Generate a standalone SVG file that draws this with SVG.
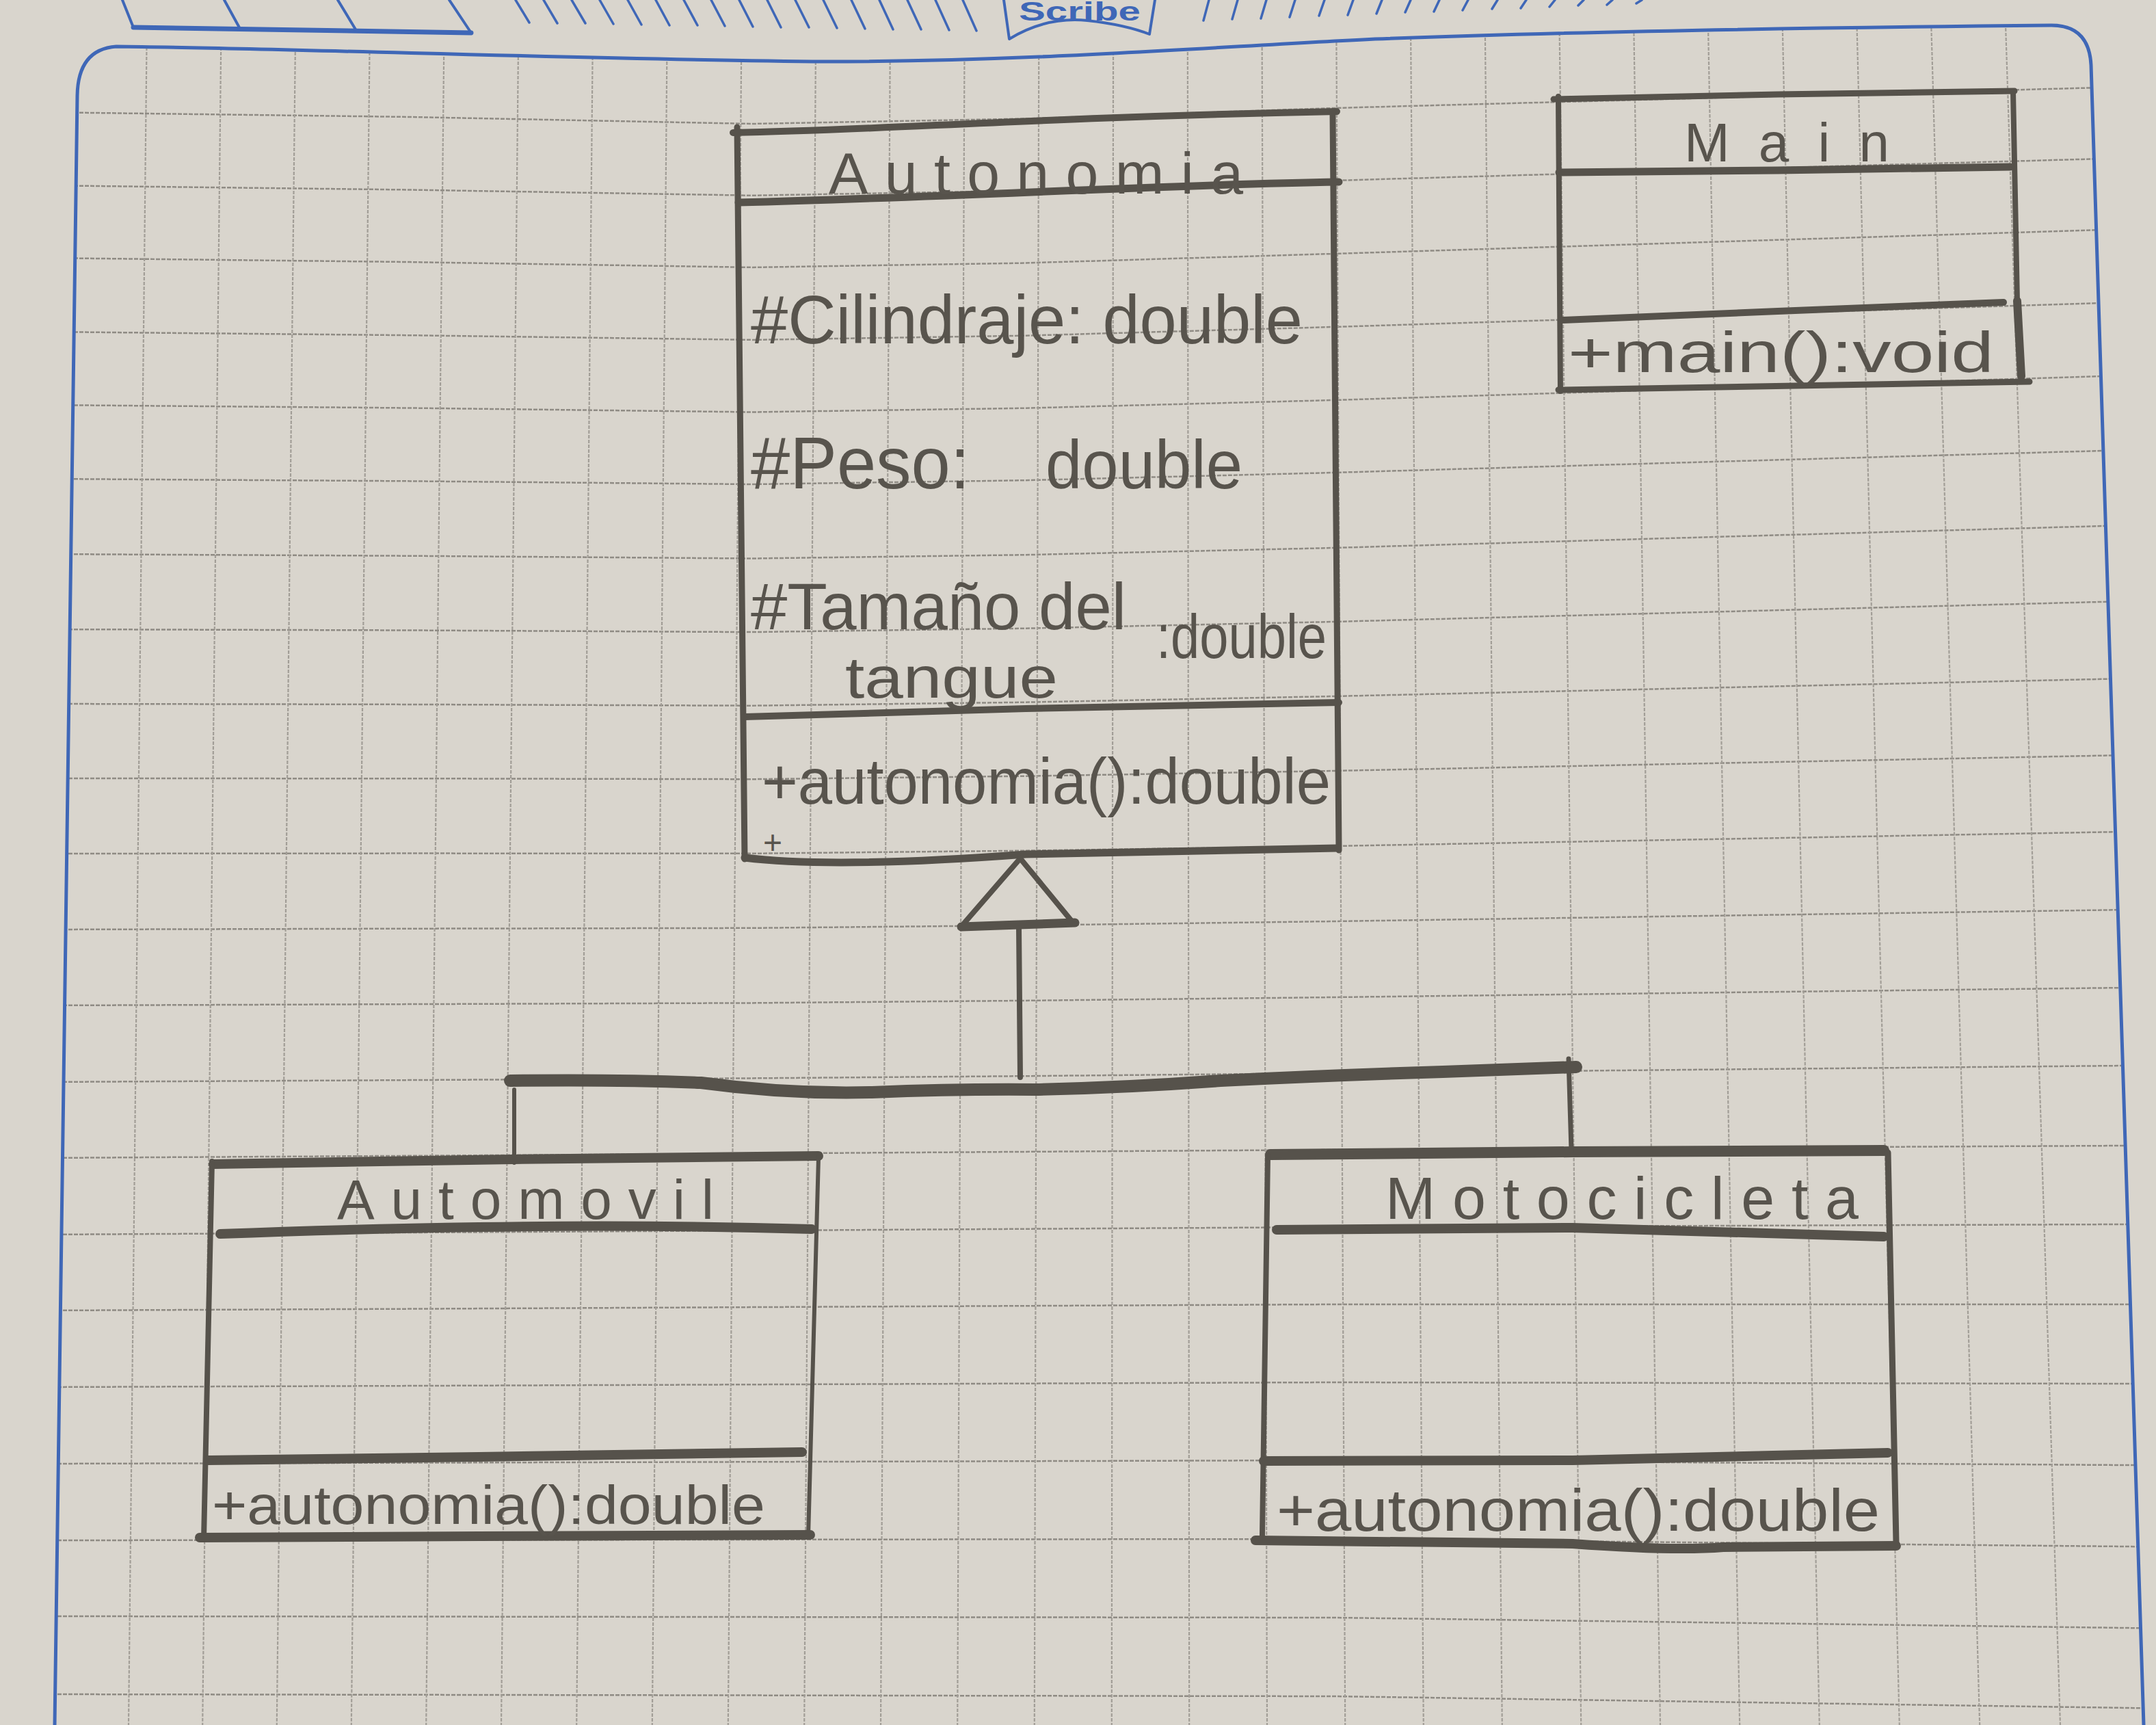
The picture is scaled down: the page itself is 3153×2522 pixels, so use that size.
<svg xmlns="http://www.w3.org/2000/svg" width="3153" height="2522" viewBox="0 0 3153 2522">
  <style>
    .paper { fill: #d9d5cd; }
    .gh { fill: none; stroke: #8f8b84; stroke-width: 2.5; stroke-dasharray: 6 2; }
    .gv { fill: none; stroke: #a29e97; stroke-width: 2.2; stroke-dasharray: 5 2; }
    .blue { fill: none; stroke: #3f67b7; stroke-linecap: round; stroke-linejoin: round; }
    .pencil { fill: none; stroke: #56524b; stroke-linecap: round; stroke-linejoin: round; }
    .hand { font-family: "Liberation Sans", "DejaVu Sans", sans-serif; fill: #58544d; }
  </style>
  <defs>
    <clipPath id="frameClip">
      <path d="M80,2522 L113,140 Q114,72 170,68 C400,70 900,88 1207,90 C1500,90 1750,70 2011,57 C2300,46 2700,40 3000,37 Q3055,37 3058,95 L3135,2522 Z"/>
    </clipPath>
  </defs>

  <!-- paper -->
  <rect class="paper" x="0" y="0" width="3153" height="2522"/>

  <!-- notebook header print -->
  <g id="header" class="blue">
    <path stroke-width="4" d="M179,0 L195,40 M328,0 L351,42 M494,0 L520,43 M657,0 L689,48"/>
    <path stroke-width="7" d="M195,40 L689,48"/>
    <path stroke-width="3.5" d="M754,0 L774,33 M795,0 L815,34 M836,0 L856,34 M877,0 L897,35 M918,0 L938,36 M959,0 L979,37 M1000,0 L1020,37 M1040,0 L1060,38 M1081,0 L1101,39 M1122,0 L1142,40 M1163,0 L1183,40 M1204,0 L1224,41 M1245,0 L1265,42 M1286,0 L1306,43 M1327,0 L1347,43 M1368,0 L1388,44 M1408,0 L1428,45"/>
    <path stroke-width="3.5" d="M1760,30 L1768,0 M1802,28 L1810,0 M1844,27 L1852,0 M1886,25 L1894,0 M1929,23 L1937,0 M1971,22 L1979,0 M2013,20 L2021,0 M2055,18 L2063,0 M2097,17 L2105,0 M2139,15 L2147,0 M2182,13 L2190,0 M2224,12 L2232,0 M2266,10 L2274,0 M2308,8 L2316,0 M2350,7 L2358,0 M2393,5 L2401,0"/>
    <path stroke-width="4" d="M1468,0 L1476,57 Q1530,24 1590,30 Q1645,36 1681,50 L1689,0"/>
    <text x="1490" y="30" textLength="178" lengthAdjust="spacingAndGlyphs" style="font-family:'Liberation Sans',sans-serif;font-weight:bold;font-size:38px;fill:#3f67b7;stroke:none">Scribe</text>
  </g>

  <!-- squared ruling, kept inside the printed frame -->
  <g id="grid" clip-path="url(#frameClip)">
    <g class="gh">
      <polyline points="60,164 600,171 1100,181 1500,173.5 1950,158 2500,143.2 3160,125.7"/>
      <polyline points="60,271 600,277.5 1100,285.8 1500,278.7 1950,264 2500,248.2 3160,229.6"/>
      <polyline points="60,377 600,383.1 1100,390.9 1500,384.5 1950,371 2500,353.8 3160,333.4"/>
      <polyline points="60,485 600,490.2 1100,496.9 1500,490.7 1950,478 2500,460.8 3160,440.4"/>
      <polyline points="60,592 600,596.5 1100,602.5 1500,596.7 1950,585 2500,567.8 3160,547.4"/>
      <polyline points="60,700 600,703.4 1100,708 1500,702.2 1950,691 2500,675.2 3160,656.6"/>
      <polyline points="60,810 600,812.7 1100,816.5 1500,811.2 1950,801 2500,785.2 3160,766.6"/>
      <polyline points="60,920 600,921.5 1100,924.1 1500,918.7 1950,909 2500,894.7 3160,877.7"/>
      <polyline points="60,1029 600,1029.9 1100,1031.7 1500,1026.7 1950,1018 2500,1005.6 3160,990.9"/>
      <polyline points="60,1138 600,1138.2 1100,1139.2 1500,1134.7 1950,1127 2500,1116 3160,1103"/>
      <polyline points="60,1248 600,1247.6 1100,1247.8 1500,1243.7 1950,1237 2500,1227 3160,1215"/>
      <polyline points="60,1359 600,1357.7 1100,1356.8 1500,1352.9 1950,1347 2500,1338.9 3160,1329.3"/>
      <polyline points="60,1470 600,1468.1 1100,1466.4 1500,1462.9 1950,1458 2500,1451.3 3160,1443.4"/>
      <polyline points="60,1582 600,1579.1 1100,1576.4 1500,1573.2 1950,1569 2500,1563.7 3160,1557.5"/>
      <polyline points="60,1693 600,1689.8 1100,1686.5 1500,1683.9 1950,1681 2500,1678.1 3160,1674.7"/>
      <polyline points="60,1805 600,1802 1100,1799.1 1500,1796.7 1950,1794 2500,1792.1 3160,1789.8"/>
      <polyline points="60,1916 600,1913.6 1100,1911.1 1500,1909.2 1950,1907 2500,1907 3160,1907"/>
      <polyline points="60,2028 600,2026.1 1100,2024.2 1500,2022.7 1950,2021 2500,2022 3160,2023.1"/>
      <polyline points="60,2140 600,2138.6 1100,2137.3 1500,2136.2 1950,2135 2500,2138.3 3160,2142.3"/>
      <polyline points="60,2252 600,2251.5 1100,2250.9 1500,2250.5 1950,2250 2500,2255.3 3160,2261.5"/>
      <polyline points="60,2363 600,2363.5 1100,2364.1 1500,2364.5 1950,2365 2500,2372.2 3160,2380.7"/>
      <polyline points="60,2477 600,2477.8 1100,2478.6 1500,2479.3 1950,2480 2500,2488.1 3160,2497.7"/>
    </g>
    <g class="gv">
      <line x1="215" y1="20" x2="188" y2="2522"/>
      <line x1="323.7" y1="20" x2="296.2" y2="2522"/>
      <line x1="432.4" y1="20" x2="404.8" y2="2522"/>
      <line x1="541.1" y1="20" x2="513.8" y2="2522"/>
      <line x1="649.8" y1="20" x2="623.2" y2="2522"/>
      <line x1="758.5" y1="20" x2="733" y2="2522"/>
      <line x1="867.2" y1="20" x2="843.2" y2="2522"/>
      <line x1="975.9" y1="20" x2="953.8" y2="2522"/>
      <line x1="1084.6" y1="20" x2="1064.8" y2="2522"/>
      <line x1="1193.3" y1="20" x2="1176.2" y2="2522"/>
      <line x1="1302" y1="20" x2="1288" y2="2522"/>
      <line x1="1410.7" y1="20" x2="1400.2" y2="2522"/>
      <line x1="1519.4" y1="20" x2="1512.8" y2="2522"/>
      <line x1="1628.1" y1="20" x2="1625.8" y2="2522"/>
      <line x1="1736.8" y1="20" x2="1739.2" y2="2522"/>
      <line x1="1845.5" y1="20" x2="1853" y2="2522"/>
      <line x1="1954.2" y1="20" x2="1967.2" y2="2522"/>
      <line x1="2062.9" y1="20" x2="2081.8" y2="2522"/>
      <line x1="2171.6" y1="20" x2="2196.8" y2="2522"/>
      <line x1="2280.3" y1="20" x2="2312.2" y2="2522"/>
      <line x1="2389" y1="20" x2="2428" y2="2522"/>
      <line x1="2497.7" y1="20" x2="2544.2" y2="2522"/>
      <line x1="2606.4" y1="20" x2="2660.8" y2="2522"/>
      <line x1="2715.1" y1="20" x2="2777.8" y2="2522"/>
      <line x1="2823.8" y1="20" x2="2895.2" y2="2522"/>
      <line x1="2932.5" y1="20" x2="3013" y2="2522"/>
    </g>
  </g>

  <!-- printed page frame -->
  <path id="frame" class="blue" stroke-width="5" d="M80,2522 L113,140 Q114,72 170,68 C400,70 900,88 1207,90 C1500,90 1750,70 2011,57 C2300,46 2700,40 3000,37 Q3055,37 3058,95 L3135,2522"/>

  <!-- class Autonomia -->
  <g id="autonomia">
    <path class="pencil" stroke-width="10" d="M1072,194 C1300,190 1500,172 1955,163"/>
    <path class="pencil" stroke-width="9" d="M1078,186 L1089,1256"/>
    <path class="pencil" stroke-width="9" d="M1949,163 L1958,1243"/>
    <path class="pencil" stroke-width="11" d="M1080,296 C1400,288 1700,270 1958,266"/>
    <path class="pencil" stroke-width="10" d="M1089,1048 L1500,1036 L1958,1027"/>
    <path class="pencil" stroke-width="11" d="M1089,1254 Q1220,1270 1500,1249 L1955,1240"/>
    <text class="hand" x="1212" y="283" font-size="86" textLength="606" lengthAdjust="spacing">Autonomia</text>
    <text class="hand" x="1098" y="502" font-size="100" textLength="807" lengthAdjust="spacingAndGlyphs">#Cilindraje: double</text>
    <text class="hand" y="714"><tspan x="1098" font-size="108" textLength="349" lengthAdjust="spacingAndGlyphs">#Peso: </tspan><tspan x="1529" font-size="100" textLength="288" lengthAdjust="spacingAndGlyphs">double</tspan></text>
    <text class="hand"><tspan x="1098" y="920" font-size="96" textLength="549" lengthAdjust="spacingAndGlyphs">#Tamaño del</tspan><tspan x="1236" y="1020" font-size="86" textLength="311" lengthAdjust="spacingAndGlyphs">tangue</tspan><tspan x="1691" y="962" font-size="90" textLength="249" lengthAdjust="spacingAndGlyphs">:double</tspan></text>
    <text class="hand" x="1114" y="1175" font-size="94" textLength="832" lengthAdjust="spacingAndGlyphs">+autonomia():double</text>
    <text class="hand" x="1116" y="1248" font-size="48">+</text>
  </g>

  <!-- class Main -->
  <g id="main">
    <path class="pencil" stroke-width="9" d="M2272,145 L2600,138 L2946,133"/>
    <path class="pencil" stroke-width="8" d="M2279,141 L2282,572"/>
    <path class="pencil" stroke-width="8" d="M2944,134 L2950,440"/>
    <path class="pencil" stroke-width="12" d="M2950,440 L2956,550"/>
    <path class="pencil" stroke-width="11" d="M2280,252 L2600,249 L2940,244"/>
    <path class="pencil" stroke-width="10" d="M2284,468 L2600,455 L2930,442"/>
    <path class="pencil" stroke-width="9" d="M2279,570 L2968,558"/>
    <text class="hand" x="2463" y="236" font-size="80" textLength="300" lengthAdjust="spacing">Main</text>
    <text class="hand" x="2293" y="544" font-size="84" textLength="623" lengthAdjust="spacingAndGlyphs">+main():void</text>
  </g>

  <!-- class Automovil -->
  <g id="automovil">
    <path class="pencil" stroke-width="14" d="M312,1702 L750,1695 L1197,1690"/>
    <path class="pencil" stroke-width="8" d="M310,1698 L298,2250"/>
    <path class="pencil" stroke-width="6" d="M1197,1692 L1182,2246"/>
    <path class="pencil" stroke-width="14" d="M322,1804 Q500,1797 700,1794 Q950,1790 1187,1797"/>
    <path class="pencil" stroke-width="14" d="M304,2135 L700,2130 L1173,2123"/>
    <path class="pencil" stroke-width="14" d="M292,2248 L700,2246 L1185,2244"/>
    <text class="hand" x="493" y="1782" font-size="82" textLength="551" lengthAdjust="spacing">Automovil</text>
    <text class="hand" x="310" y="2228" font-size="80" textLength="809" lengthAdjust="spacingAndGlyphs">+autonomia():double</text>
  </g>

  <!-- class Motocicleta -->
  <g id="motocicleta">
    <path class="pencil" stroke-width="16" d="M1858,1688 L2300,1684 L2755,1682"/>
    <path class="pencil" stroke-width="8" d="M1854,1690 L1846,2245"/>
    <path class="pencil" stroke-width="9" d="M2761,1685 L2773,2255"/>
    <path class="pencil" stroke-width="14" d="M1867,1798 L2300,1795 L2755,1808"/>
    <path class="pencil" stroke-width="14" d="M1848,2136 L2300,2135 L2761,2124"/>
    <path class="pencil" stroke-width="14" d="M1836,2252 L2300,2257 Q2450,2268 2520,2262 L2773,2260"/>
    <text class="hand" x="2026" y="1782" font-size="88" textLength="692" lengthAdjust="spacing">Motocicleta</text>
    <text class="hand" x="1867" y="2238" font-size="88" textLength="882" lengthAdjust="spacingAndGlyphs">+autonomia():double</text>
  </g>

  <!-- generalization: Automovil and Motocicleta extend Autonomia -->
  <g id="connectors">
    <path class="pencil" stroke-width="8" d="M1492,1255 L1408,1352 M1492,1255 L1570,1350"/>
    <path class="pencil" stroke-width="13" d="M1406,1355 L1490,1352 L1572,1349"/>
    <path class="pencil" stroke-width="8" d="M1490,1357 L1492,1575"/>
    <path class="pencil" stroke-width="18" d="M746,1580 Q900,1578 1025,1583 Q1150,1600 1275,1597 Q1400,1592 1513,1593 Q1650,1590 1785,1580 Q1950,1572 2110,1567 L2305,1560"/>
    <path class="pencil" stroke-width="6" d="M752,1593 L752,1700"/>
    <path class="pencil" stroke-width="7" d="M2294,1548 L2298,1682"/>
  </g>
</svg>
